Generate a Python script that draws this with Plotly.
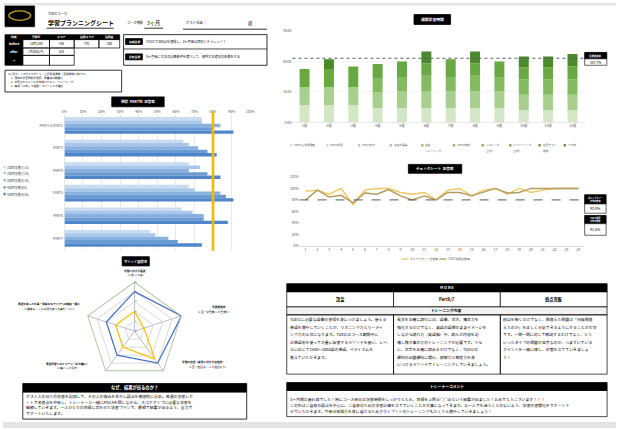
import plotly.graph_objects as go

W, H = 620, 430
FONT = "Noto Sans CJK JP"


def X(px):
    return px / W


def Y(py):
    return 1 - py / H


# ---------------- data ----------------
parts = ["PART1＆PART2", "PART3", "PART4", "PART5", "PART6", "PART7"]
check_names = ["1回目実施(7/15)", "2回目実施(7/29)", "3回目実施(8/19)", "4回目実施(9/9)", "5回目実施(9/30)"]
rate_1 = [74, 64, 67, 67, 63, 46]
rate_2 = [74, 67, 73, 70, 69, 49]
rate_3 = [84, 72, 67, 84, 75, 56]
rate_4 = [80, 77, 77, 87, 75, 61]
rate_5 = [91, 82, 84, 91, 88, 74]
pct_ticks = [0, 10, 20, 30, 40, 50, 60, 70, 80, 90, 100]
pct_labels = ["0%", "10%", "20%", "30%", "40%", "50%", "60%", "70%", "80%", "90%", "100%"]
target_rate = 80

weeks = ["1週", "2週", "3週", "4週", "5週", "6週", "7週", "8週", "9週", "10週", "11週", "12週"]
study_names = ["TOEIC公式問題集", "TOEIC単語", "TOEIC文法", "英文法講義", "音読<br>トレーニング",
               "TOEIC模試", "リスニング<br>公式7", "シャドーイング<br>公式7", "復習テスト<br>模試", "その他"]
study_1 = [5.7, 5.7, 5.7, 4.8, 4.8, 4.8, 4.8, 4.8, 4.8, 4.1, 4.1, 4.1]
study_2 = [0, 0, 0, 0, 0, 0, 0, 0, 0, 0, 0, 0]
study_3 = [5.9, 5.9, 5.9, 5.2, 5.5, 5.5, 5.5, 5.5, 5.5, 5.0, 5.0, 5.0]
study_4 = [0, 0, 0, 0, 0, 0, 0, 0, 0, 0, 0, 0]
study_5 = [0, 0, 0, 4.3, 4.6, 5.0, 4.6, 5.0, 4.6, 5.0, 5.0, 5.0]
study_6 = [0, 0, 0, 0, 0, 0, 0, 0, 0, 0, 0, 0]
study_7 = [5.9, 5.9, 6.7, 4.8, 5.0, 4.0, 5.8, 4.0, 5.0, 4.0, 4.0, 4.3]
study_8 = [0, 0, 0, 0, 0, 0, 0, 0, 0, 0, 0, 0]
study_9 = [0, 3.2, 0, 0, 0, 3.9, 0, 3.9, 0, 3.5, 3.5, 4.0]
study_10 = [0, 0, 0, 0, 0, 0, 0, 0, 0, 0, 0, 0]
hour_ticks = [0, 10, 20, 30]
hour_labels = ["0:00", "10:00", "20:00", "30:00"]
target_hours = 21

sessions = [1, 2, 3, 4, 5, 6, 7, 8, 9, 10, 11, 12, 13, 14, 15, 16, 17, 18, 19, 20, 21, 22, 23, 24]
vocab_rate = [95, 97, 90, 100, 72, 97, 100, 100, 93, 90, 93, 80, 97, 100, 87, 97, 100, 90, 100, 93, 97, 100, 100, 100]
toeic_rate = [80, 97, 85, 88, 75, 92, 90, 98, 87, 80, 87, 80, 93, 93, 87, 93, 100, 92, 93, 100, 100, 100, 100, 100]
line_names = ["ボキャブラリー正答率", "TOEIC問題正答率"]
line_ticks = [0, 20, 40, 60, 80, 100, 120]
line_labels = ["0%", "20%", "40%", "60%", "80%", "100%", "120%"]
line_target = 80

mind_axes = ["学習に対する意欲", "学習習慣度", "学習の自信", "英語学習へのイメージ", "英語を使った仕事への興味"]
mind_goal = [5, 5, 5, 5, 5]
mind_after = [4, 5, 4, 3, 3]
mind_before = [2, 1, 3.5, 2, 2]

# ---------------- styles ----------------
bar_colors = ["#C9DCF2", "#A9C7EA", "#88B1E0", "#6A9BD5", "#4E86C9"]
study_colors = ["#D3E7C6", "#C4DFB3", "#A8CF8E", "#9AC67C", "#84BA60",
                "#7DB65A", "#68A943", "#62A23C", "#4B8A2C", "#4A852B"]
line_colors = ["#EFC75E", "#B39B5F"]

fig = go.Figure()

for name, vals, col in zip(check_names, [rate_1, rate_2, rate_3, rate_4, rate_5], bar_colors):
    fig.add_trace(go.Bar(y=parts, x=vals, orientation="h", name=name, marker=dict(color=col, line=dict(width=0)),
                         xaxis="x", yaxis="y", showlegend=False))

study_all = [study_1, study_2, study_3, study_4, study_5, study_6, study_7, study_8, study_9, study_10]
running = [0.0] * len(weeks)
for name, vals, col in zip(study_names, study_all, study_colors):
    fig.add_trace(go.Bar(x=weeks, y=vals, base=list(running), name=name, offsetgroup="wk", width=0.41,
                         offset=-0.205, marker=dict(color=col, line=dict(width=0)),
                         xaxis="x2", yaxis="y2", showlegend=False))
    running = [r + v for r, v in zip(running, vals)]

for name, vals, col in zip(line_names, [vocab_rate, toeic_rate], line_colors):
    fig.add_trace(go.Scatter(x=sessions, y=vals, mode="lines", name=name, line=dict(color=col, width=1.4),
                             xaxis="x3", yaxis="y3", showlegend=False))

for name, vals, col in zip(["目標", "3ヶ月後", "開始時"], [mind_goal, mind_after, mind_before],
                           ["#70AD47", "#4472C4", "#FFC000"]):
    fig.add_trace(go.Scatterpolar(r=vals + vals[:1], theta=mind_axes + mind_axes[:1], mode="lines",
                                  name=name, line=dict(color=col, width=1.2), showlegend=False))

shapes = []
ann = []


def rect(x0, y0, x1, y1, fill="rgba(0,0,0,0)", lc="black", lw=0.7):
    shapes.append(dict(type="rect", xref="paper", yref="paper", x0=X(x0), x1=X(x1), y0=Y(y1), y1=Y(y0),
                       fillcolor=fill, line=dict(color=lc, width=lw)))


def hline(x0, y0, x1, y1, lc="black", lw=0.7, dash="solid"):
    shapes.append(dict(type="line", xref="paper", yref="paper", x0=X(x0), x1=X(x1), y0=Y(y0), y1=Y(y1),
                       line=dict(color=lc, width=lw, dash=dash)))


def txt(x, y, s, size=3.5, color="black", xa="left", bold=False):
    if bold:
        s = "<b>" + s + "</b>"
    ann.append(dict(xref="paper", yref="paper", x=X(x), y=Y(y), text=s, showarrow=False, xanchor=xa,
                    yanchor="middle", borderpad=0, font=dict(size=size, color=color, family=FONT)))


def para(x, y0, lines, size=3.8, step=7.0, color="black"):
    for i, s in enumerate(lines):
        txt(x, y0 + i * step, s, size=size, color=color)


def title_box(x0, y0, x1, y1, s, size=4):
    rect(x0, y0, x1, y1, fill="black", lc="black", lw=0.8)
    txt((x0 + x1) / 2, (y0 + y1) / 2, s, size=size, color="white", xa="center", bold=True)


rect(0, 0, 620, 2.5, fill="#E4E4E4", lc="#E4E4E4", lw=0)
rect(0, 424, 620, 430, fill="#E4E4E4", lc="#E4E4E4", lw=0)

# header
rect(2, 3, 32, 24, fill="black")
shapes.append(dict(type="circle", xref="paper", yref="paper", x0=X(6), x1=X(28), y0=Y(17.5), y1=Y(8),
                   line=dict(color="#C9A227", width=1.3)))
txt(45, 11, "TOEICコース", 3.3)
txt(45, 20, "学習プランニングシート", 6, bold=True)
hline(44, 25.5, 112, 25.5, lw=0.8)
txt(124, 20, "コース期間", 3.2)
txt(145, 20, "3ヶ月", 5.2)
hline(143, 25.5, 162, 25.5, lw=0.8)
txt(184, 20, "ゲスト氏名：", 3.4)
txt(247, 20, "様", 4.3)
hline(182, 26.5, 267, 26.5, lw=0.8)

# score table
cols = [2, 20, 47, 72, 97, 118]
rect(2, 32, 118, 37, fill="black")
for i, h in enumerate(["時期", "受験日", "スコア", "目標スコア", "目標差"]):
    txt((cols[i] + cols[i + 1]) / 2, 34.5, h, 2.8, color="white", xa="center", bold=True)
rect(2, 37, 20, 63, fill="black")
txt(11, 41.2, "before", 3.2, color="white", xa="center", bold=True)
txt(11, 49.2, "after", 3.2, color="white", xa="center", bold=True)
txt(11, 58, "→", 3.2, color="white", xa="center", bold=True)
for i in range(1, 5):
    rect(cols[i], 37, cols[i + 1], 45.5)
for i in range(1, 3):
    rect(cols[i], 45.5, cols[i + 1], 53)
    rect(cols[i], 53, cols[i + 1], 63)
for i, v in enumerate(["10月13日", "450", "770", "800"]):
    txt((cols[i + 1] + cols[i + 2]) / 2, 41.2, v, 3, xa="center")
for i, v in enumerate(["1月26日(予)", "610"]):
    txt((cols[i + 1] + cols[i + 2]) / 2, 49.2, v, 3, xa="center")

# goal box
rect(122, 32, 267, 63, lw=0.8)
hline(122, 46.5, 267, 46.5)
title_box(124, 36, 141, 42, "短期目標", 2.8)
title_box(124, 51.5, 141, 57.5, "最終目標", 2.8)
txt(144, 39, "TOEICで300点を達成し、3ヶ月後は目標にチャレンジ！", 3.2)
txt(144, 54.5, "3ヶ月後に大学の公募条件を満たして、海外大学進学の準備をする", 3.2)

# plan box
rect(2, 68, 120, 90, lw=0.8)
txt(4, 72, "3ヶ月でしっかりとサポート（上記目標達成・目標達成に向けて）", 2.7)
txt(7, 76.2, "1.  現状の学習時間を把握、改善点の明確化", 2.7)
txt(7, 80.2, "2.  学習スケジュールの作成とテスト、トレーニング", 2.7)
txt(7, 84.2, "3.  毎日「LINE」で報告していくことで継続", 2.7)

# PART bar chart
title_box(110, 95, 163, 105, "現状  PART別  正答率", 3.6)
shapes.append(dict(type="line", xref="x", yref="y domain", x0=target_rate, x1=target_rate, y0=-0.01, y1=1.02,
                   line=dict(color="#F5B800", width=2.6)))
for i, (nm, col) in enumerate(zip(check_names, bar_colors)):
    yy = [166, 172, 179.3, 186.5, 193.3][i]
    rect(0.4, yy - 1.2, 2.8, yy + 1.2, fill=col, lc=col, lw=0)
    txt(3.3, yy, nm, 3.0, color="#404040")

# weekly hours chart
title_box(415.7, 11.7, 452.7, 21.7, "週間学習時間", 3.8)
shapes.append(dict(type="line", xref="x2 domain", yref="y2", x0=0, x1=1, y0=target_hours, y1=target_hours,
                   line=dict(color="#595959", width=1, dash="dot")))
title_box(588.3, 50, 610.7, 56.5, "目標達成率", 2.4)
rect(588.3, 56.5, 610.7, 63, fill="white", lw=0.6)
txt(599.5, 59.8, "107.7%", 3.3, xa="center")
leg_x = [290.5, 327, 359, 391, 423, 455, 484, 512, 541.5, 567]
for i, (nm, col) in enumerate(zip(study_names, study_colors)):
    rect(leg_x[i], 142.8, leg_x[i] + 2.3, 145.1, fill=col, lc=col, lw=0)
    for j, part in enumerate(nm.split("<br>")):
        txt(leg_x[i] + 3.2, 144 + j * 5.3, part, 2.7, color="#595959")

# line chart
title_box(410, 163.3, 464, 172.3, "チェックシート  正答率", 3.6)
shapes.append(dict(type="line", xref="x3 domain", yref="y3", x0=0, x1=1, y0=line_target, y1=line_target,
                   line=dict(color="#595959", width=1, dash="dash")))
title_box(588.3, 194, 610, 203.3, "ボキャブラリー<br>平均正答率", 2.1)
rect(588.3, 203.3, 610, 212.7, fill="white", lw=0.6)
txt(599.2, 208, "93.9%", 3.6, xa="center")
title_box(588.3, 215, 610, 223.3, "TOEIC問題<br>平均正答率", 2.1)
rect(588.3, 223.3, 610, 235, fill="white", lw=0.6)
txt(599.2, 229.2, "91.5%", 3.6, xa="center")
for i, (nm, col) in enumerate(zip(line_names, line_colors)):
    x0 = [403, 441.5][i]
    hline(x0, 259, x0 + 7, 259, lc=col, lw=1.3)
    txt(x0 + 8, 259, nm, 2.8, color="#595959")

# radar labels
title_box(120.5, 256.7, 148, 266, "マインド面状況", 3.3)
txt(134, 270.7, "学習に対する意欲", 2.7, xa="center", bold=True)
txt(134, 275.3, "（1:低 〜 5:高）", 2.7, xa="center")
txt(218, 307.7, "学習習慣度", 2.7, xa="center", bold=True)
txt(213, 312.7, "（1:全く学習無 〜 5:習慣化）", 2.7, xa="center")
txt(203, 363, "学習の自信（結果に対する自信度）", 2.7, xa="center", bold=True)
txt(207, 368.5, "（1:全く自信なし 〜 5:自信あり）", 2.7, xa="center")
txt(65, 365, "英語学習へのイメージ（好き嫌い）", 2.7, xa="center", bold=True)
txt(65, 369.5, "（1:嫌い 〜 5:好き）", 2.7, xa="center")
txt(47, 305, "英語を使った仕事・将来のキャリアへの興味・関心", 2.7, xa="center", bold=True)
txt(47, 310, "（1:興味なし 〜 5:英語を使う仕事をしたい）", 2.7, xa="center")

# why box
title_box(20, 385, 246.5, 393.5, "なぜ、結果が出るのか？", 4.3)
rect(20, 393.5, 246.5, 421, lw=0.8)
para(22, 397.5, [
    "ゲスト人の日々の学習を記録して、その人の強みを生かし弱点を徹底的に分析。毎週の学習レポ",
    "ートで改善点を共有し、トレーナーと一緒にPDCAを回しながら、スコアアップに必要な学習を",
    "継続していきます。一人ひとりの目標に合わせた学習プランで、最短で結果が出るよう、全力で",
    "サポートいたします。",
], size=3.9, step=5.8)

# MORE table
title_box(287, 284, 611, 292.3, "M O R E", 3.8)
mcols = [287, 395, 503, 611]
for i, h in enumerate(["語彙", "Part6/7", "弱点克服"]):
    rect(mcols[i], 292.3, mcols[i + 1], 307.5, fill="white", lw=0.7)
    txt((mcols[i] + mcols[i + 1]) / 2, 299.9, h, 4.2, xa="center", bold=True)
rect(287, 307.5, 611, 315.5, fill="#F2F2F2", lw=0.7)
txt(449, 311.5, "トレーニング内容", 3.8, xa="center", bold=True)
for i in range(3):
    rect(mcols[i], 315.5, mcols[i + 1], 375.5, lw=0.7)
para(289, 320, [
    "TOEICに必要な語彙の習得を身につけましょう。使える",
    "単語を増やしていくことが、リスニング力とリーディ",
    "ング力の土台になります。TOEICはコース期間中に",
    "は単語集を使って大量に反復するメソッドを使い、レベ",
    "ルに応じて1500〜3000語の単語、イディオムを",
    "覚えていただきます。",
], size=3.9, step=7.6)
para(397, 320, [
    "長文を正確に読むには、語彙、文法、構文力を",
    "強化するだけでなく、英語の語順のままイメージを",
    "しながら読む力（英語脳）や、読んだ内容を記",
    "憶し残す事の力のトレーニングが必要です。さら",
    "に、文章を正確に読めるだけでなく、TOEICの",
    "傾向の出題傾向に慣れ、読解力と解答力を身",
    "につけるメソッドでトレーニングしていきましょう。",
], size=3.9, step=7.6)
para(505, 320, [
    "模試を解くだけでなく、間違えた問題は「何故間違",
    "えたのか」を正しく分析できるようにすることが大切",
    "です。一問一問に対して解説するだけでなく、どう",
    "いったタイプの問題が苦手なのか、つまずいている",
    "ポイントを一緒に探し、対策を立てていきましょ",
    "う！",
], size=3.9, step=7.6)

# trainer comment
title_box(287, 384, 611, 392, "トレーナーコメント", 3.8)
rect(287, 392, 611, 418.5, lw=0.7)
para(289, 401, [
    "3ヶ月間お疲れ様でした！特にコース後半は学習時間をしっかりととれ、目標を上回る○○点という結果が出ました！おめでとうございます！！！",
    "この先はご自身の弱点を中心に、ご自身のための学習計画を立てていくことが大事になってきます。お一人でも迷うことのないよう、学習の習慣化をサポートさ",
    "せていただきます。今後は実践力を身に着けるためアウトプットのトレーニングもたくさん増やしていきましょう！",
], size=3.9, step=6.0)

tick_font = dict(size=3.4, color="#595959", family=FONT)

fig.update_layout(
    width=W, height=H, autosize=False,
    margin=dict(l=0, r=0, t=0, b=0),
    paper_bgcolor="white", plot_bgcolor="white",
    font=dict(family=FONT, size=4),
    showlegend=False,
    hovermode=False,
    barmode="group", bargap=0.26, bargroupgap=0,
    xaxis=dict(domain=[X(62), X(250)], anchor="y", range=[0, 100], side="top", tickvals=pct_ticks,
               ticktext=pct_labels, showgrid=True, gridcolor="#D9D9D9", gridwidth=0.6, zeroline=False,
               showline=False, ticks="", tickfont=tick_font),
    yaxis=dict(domain=[Y(249.5), Y(112.5)], anchor="x", autorange="reversed", categoryorder="array",
               categoryarray=parts, showgrid=False, zeroline=False, ticks="", tickfont=tick_font,
               showline=True, linecolor="#D9D9D9", linewidth=0.6),
    xaxis2=dict(domain=[X(292.7), X(588.3)], anchor="y2", showgrid=False, zeroline=False, ticks="",
                showline=True, linecolor="#D9D9D9", linewidth=0.6, tickfont=tick_font),
    yaxis2=dict(domain=[Y(121), Y(28)], anchor="x2", range=[0, 30], tickvals=hour_ticks, ticktext=hour_labels,
                showgrid=True, gridcolor="#EDEDED", gridwidth=0.6, zeroline=False, ticks="", tickfont=tick_font),
    xaxis3=dict(domain=[X(300), X(588)], anchor="y3", range=[0.5, 24.5], tickvals=sessions, showgrid=False,
                zeroline=False, ticks="", showline=True, linecolor="#BFBFBF", linewidth=0.6, tickfont=tick_font),
    yaxis3=dict(domain=[Y(245.7), Y(176)], anchor="x3", range=[0, 120], tickvals=line_ticks,
                ticktext=line_labels, showgrid=False, zeroline=False, ticks="", tickfont=tick_font),
    polar=dict(domain=dict(x=[X(83), X(183)], y=[Y(382), Y(282)]), bgcolor="white", gridshape="linear",
               angularaxis=dict(direction="clockwise", rotation=90, showticklabels=False, ticks="",
                                gridcolor="#BFBFBF", linecolor="#D0D0D0", linewidth=0.6),
               radialaxis=dict(range=[0, 5], dtick=1, angle=90, tickangle=90, showline=False, ticks="",
                               gridcolor="#D9D9D9", tickfont=dict(size=2.8, color="#595959", family=FONT))),
    shapes=shapes,
    annotations=ann,
)

fig.write_html("out.html", config={"displayModeBar": False, "staticPlot": True},
               post_script="document.body.style.margin='0';document.body.style.padding='0';"
                           "document.body.style.overflow='hidden';")
